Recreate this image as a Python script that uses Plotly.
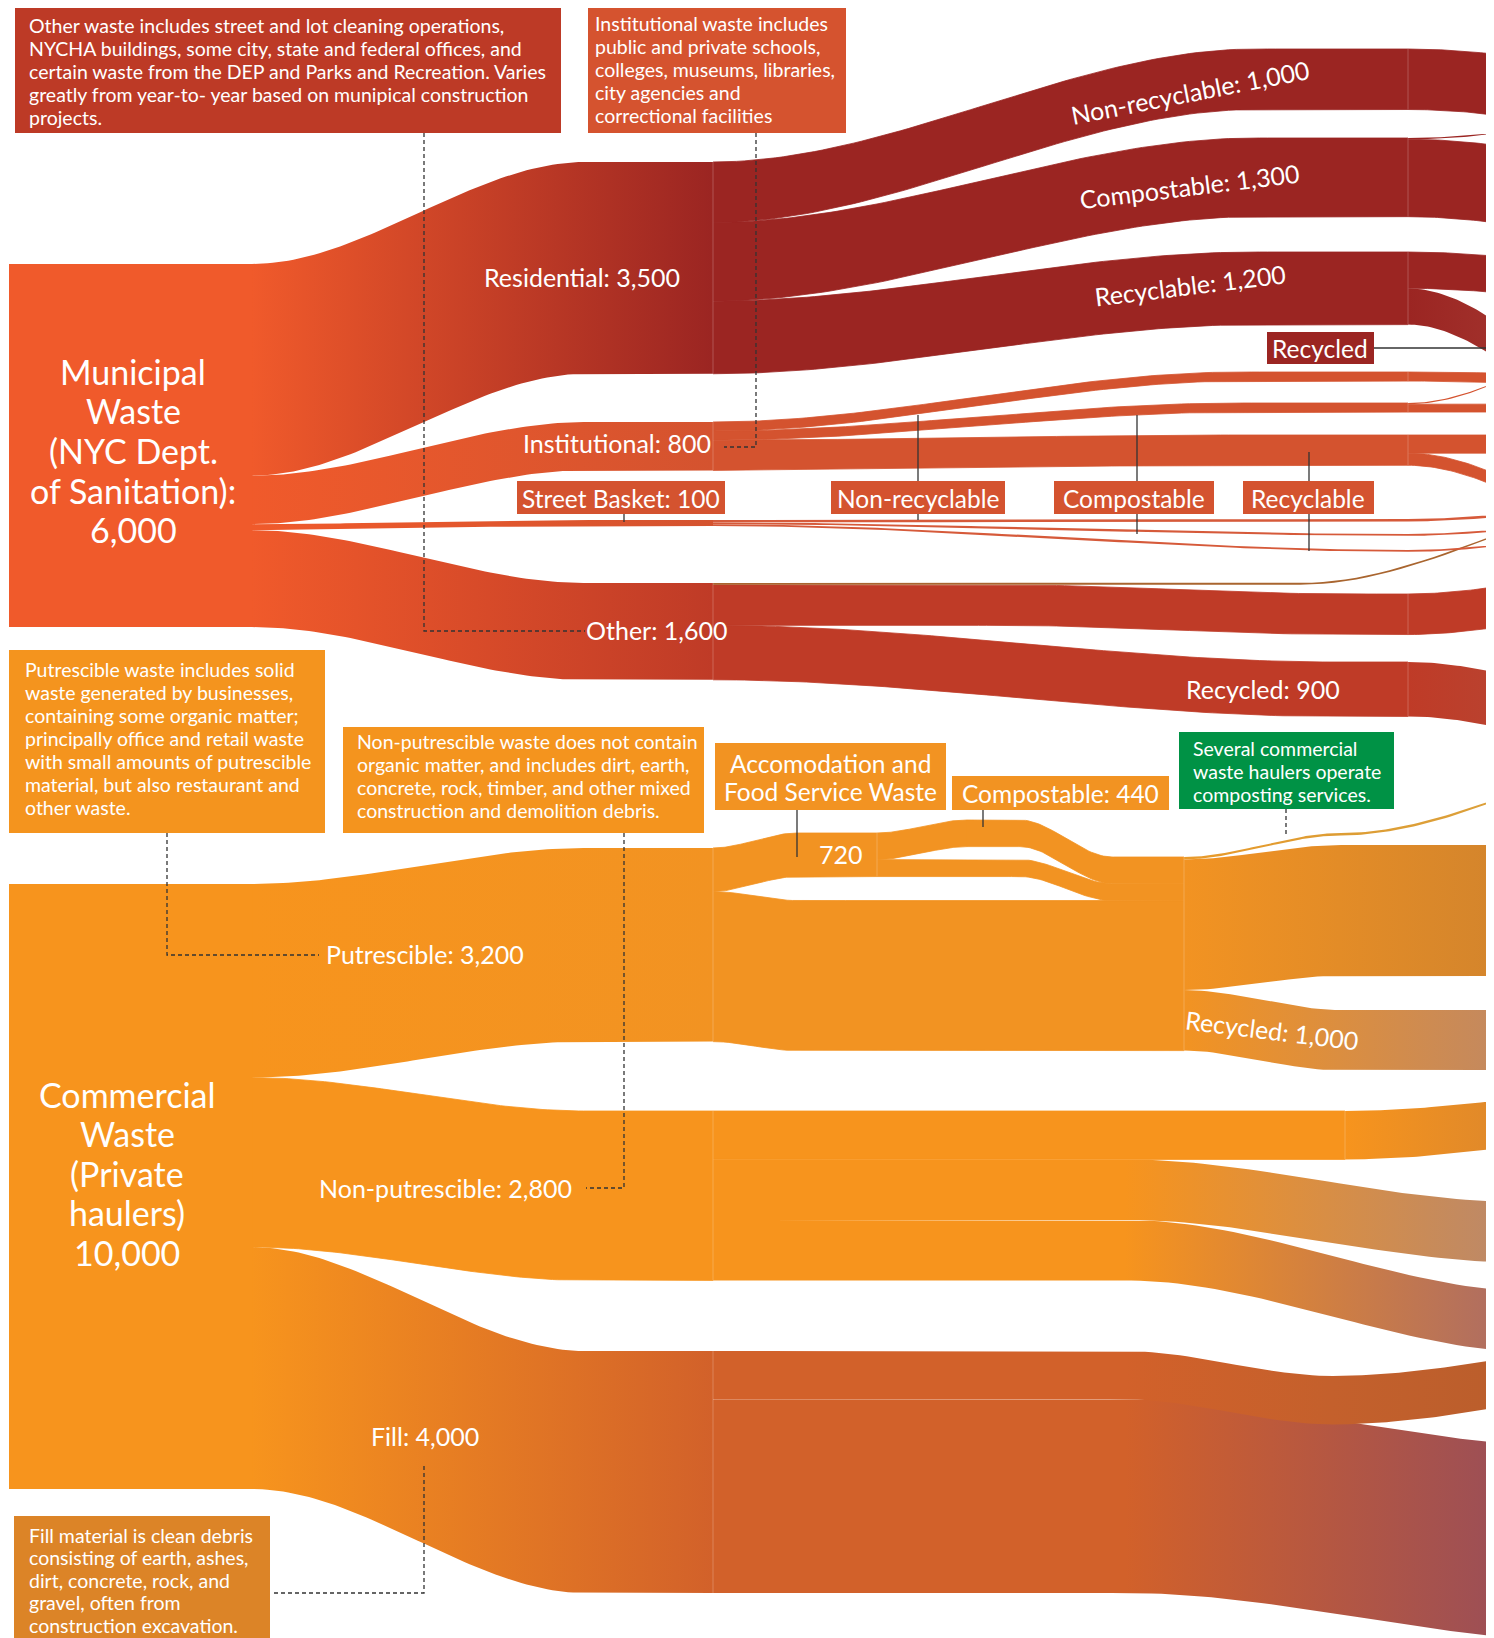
import numpy as np
import plotly.graph_objects as go

# ---------------------------------------------------------------
#  NYC waste flows (tons per day) - custom sankey on pixel axes
# ---------------------------------------------------------------
W, H = 1494, 1638
PAGE_PAD = 8        # browser body margin; axes are shifted so data px == page px
K = 0.0605          # px per ton
FONT = "Lato"

# ---- flows ----
link_source = ['MUN', 'MUN', 'MUN', 'MUN', 'COM', 'COM', 'COM',
               'RES', 'RES', 'RES', 'INS', 'INS', 'INS', 'STB', 'STB', 'STB',
               'OTH', 'OTH', 'OTH',
               'PUT', 'AFS', 'CMP', 'AFS', 'PUT', 'M', 'M', 'M', 'CPL',
               'NPU', 'NPU', 'NPU', 'NPA', 'FIL', 'FIL', 'FIA',
               'R_NR', 'R_CO', 'R_CO', 'R_RE', 'R_RE', 'I_NR', 'I_CO', 'I_CO',
               'I_RE', 'I_RE', 'S_NR', 'S_CO', 'S_RE', 'O_NR', 'O_RE']
link_target = ['RES', 'INS', 'STB', 'OTH', 'PUT', 'NPU', 'FIL',
               'R_NR', 'R_CO', 'R_RE', 'I_NR', 'I_CO', 'I_RE', 'S_NR', 'S_CO', 'S_RE',
               'X_BRN', 'O_NR', 'O_RE',
               'AFS', 'CMP', 'M', 'M', 'M', 'CPL', 'X_MAIN', 'X_R1K', 'X_CPL',
               'NPA', 'X_NPB', 'X_NPC', 'X_NPA', 'FIA', 'X_FIB', 'X_FIA',
               'X_RNR', 'X_RCOt', 'X_RCO', 'X_RREf', 'X_RREr', 'X_INR', 'X_ICOt', 'X_ICO',
               'X_IREf', 'X_IREd', 'X_SNR', 'X_SCO', 'X_SRE', 'X_ONR', 'X_ORE']
link_value = [3500, 800, 100, 1600, 3200, 2800, 4000,
              1000, 1300, 1200, 150, 150, 500, 40, 30, 30,
              30, 670, 900,
              720, 440, 440, 280, 2480, 40, 2160, 1000, 40,
              800, 1000, 1000, 800, 800, 3200, 800,
              1000, 20, 1280, 600, 600, 150, 20, 130,
              300, 200, 40, 30, 30, 670, 900]

# ---- node layout (px) ----
node_x = {'MUN': 252, 'COM': 252,
          'RES': 713, 'INS': 713, 'STB': 713, 'OTH': 713, 'PUT': 713, 'NPU': 713, 'FIL': 713,
          'AFS': 877, 'CMP': 967, 'M': 1184, 'CPL': 1341, 'NPA': 1345, 'FIA': 1333,
          'R_NR': 1408, 'R_CO': 1408, 'R_RE': 1408, 'I_NR': 1408, 'I_CO': 1408, 'I_RE': 1408,
          'S_NR': 1408, 'S_CO': 1408, 'S_RE': 1408, 'O_NR': 1408, 'O_RE': 1408,
          'X_NPB': 1520, 'X_NPC': 1540, 'X_FIB': 1600}
node_top = {'MUN': 264, 'COM': 884,
            'RES': 162, 'INS': 422, 'STB': 520, 'OTH': 583, 'PUT': 848, 'NPU': 1111, 'FIL': 1351,
            'AFS': 833, 'CMP': 820, 'M': 857, 'CPL': 833, 'NPA': 1111, 'FIA': 1376,
            'R_NR': 49, 'R_CO': 138, 'R_RE': 252, 'I_NR': 372, 'I_CO': 403, 'I_RE': 435,
            'S_NR': 519, 'S_CO': 534, 'S_RE': 550, 'O_NR': 594, 'O_RE': 662,
            'X_RNR': 73, 'X_RCOt': 114, 'X_RCO': 167, 'X_RREf': 271, 'X_RREr': 441,
            'X_INR': 377, 'X_ICOt': 307, 'X_ICO': 404, 'X_IREf': 435, 'X_IREd': 549,
            'X_SNR': 500, 'X_SCO': 515, 'X_SRE': 526, 'X_ONR': 561, 'X_ORE': 710,
            'X_BRN': 483, 'X_CPL': 748, 'X_MAIN': 845, 'X_R1K': 1010,
            'X_NPA': 1085, 'X_NPB': 1202, 'X_NPC': 1292, 'X_FIA': 1337, 'X_FIB': 1449}
OFF_X = 1700   # columns beyond the right edge

# where each ribbon bends (default: whole span)
curve = {('OTH', 'X_BRN'): (1300, 1700), ('OTH', 'O_NR'): (1000, 1350), ('OTH', 'O_RE'): (713, 1333),
         ('PUT', 'AFS'): (713, 797), ('PUT', 'M'): (713, 797), ('AFS', 'CMP'): (877, 967),
         ('CMP', 'M'): (1020, 1112), ('AFS', 'M'): (1020, 1112),
         ('NPU', 'X_NPB'): (1125, 1520), ('NPU', 'X_NPC'): (1125, 1540),
         ('FIL', 'FIA'): (1125, 1333), ('FIL', 'X_FIB'): (1125, 1600)}
curve_by_src = {'MUN': (252, 585), 'COM': (252, 585), 'RES': (713, 1255), 'INS': (713, 1240),
                'STB': (713, 1408), 'M': (1184, 1341)}

# ---- colours ----
MUN_C, RES_C, INS_C, OTH_C = '#f05a2b', '#9b2522', '#d4532f', '#bf3b27'
COM_C, PUT_C, FIL_C = '#f7941d', '#f29322', '#d2612a'
STB_C = '#d65a3a'
link_color = {('MUN', 'RES'): (MUN_C, RES_C), ('MUN', 'INS'): (MUN_C, INS_C),
              ('MUN', 'STB'): (MUN_C, INS_C), ('MUN', 'OTH'): (MUN_C, OTH_C),
              ('COM', 'PUT'): (COM_C, PUT_C), ('COM', 'NPU'): (COM_C, COM_C),
              ('COM', 'FIL'): (COM_C, FIL_C),
              ('OTH', 'X_BRN'): ('#a9652f', '#a9652f'),
              ('M', 'CPL'): ('#e99a2a', '#dd9d34'), ('CPL', 'X_CPL'): ('#dd9d34', '#dca03a'),
              ('M', 'X_MAIN'): (PUT_C, '#d4852c'), ('M', 'X_R1K'): (PUT_C, '#c4895e'),
              ('NPU', 'NPA'): (COM_C, COM_C), ('NPA', 'X_NPA'): (COM_C, '#e0892a'),
              ('NPU', 'X_NPB'): (COM_C, '#be8966'), ('NPU', 'X_NPC'): (COM_C, '#b06e60'),
              ('FIL', 'FIA'): (FIL_C, '#c4602c'), ('FIA', 'X_FIA'): ('#c4602c', '#bb5e2c'),
              ('FIL', 'X_FIB'): (FIL_C, '#9d4f55'),
              ('R_RE', 'X_RREr'): (RES_C, '#a1302b'), ('O_RE', 'X_ORE'): (OTH_C, '#ba422f')}
src_color = {'RES': RES_C, 'R_NR': RES_C, 'R_CO': RES_C, 'R_RE': RES_C,
             'INS': INS_C, 'I_NR': INS_C, 'I_CO': INS_C, 'I_RE': INS_C,
             'STB': STB_C, 'S_NR': STB_C, 'S_CO': STB_C, 'S_RE': STB_C,
             'OTH': OTH_C, 'O_NR': OTH_C, 'PUT': PUT_C, 'AFS': PUT_C, 'CMP': PUT_C}


def ribbon(x0, x1, ya, yb, w, cx0, cx1):
    xs = np.unique(np.concatenate([np.linspace(x0, x1, 90), [cx0, cx1]]))
    xs = xs[(xs >= x0) & (xs <= x1)]
    t = np.clip((xs - cx0) / max(cx1 - cx0, 1e-9), 0, 1)
    top = ya + (yb - ya) * t * t * (3 - 2 * t)
    return np.concatenate([xs, xs[::-1]]), np.concatenate([top, (top + w)[::-1]])


fig = go.Figure()

out_off, in_off = {}, {}
paths = []
for s, t, v in zip(link_source, link_target, link_value):
    w = v * K
    ya = node_top[s] + out_off.get(s, 0)
    yb = node_top[t] + in_off.get(t, 0)
    out_off[s] = out_off.get(s, 0) + w
    in_off[t] = in_off.get(t, 0) + w
    x0, x1 = node_x[s], node_x.get(t, OFF_X)
    cx0, cx1 = curve.get((s, t), curve_by_src.get(s, (x0, x1)))
    c0, c1 = link_color.get((s, t), (src_color.get(s, RES_C),) * 2)
    xs, ys = ribbon(x0, x1, ya, yb, w, cx0, cx1)
    paths.append((v, xs, ys, c0, c1, cx0, min(x1, W)))

# big ribbons first, thin strands on top
for v, xs, ys, c0, c1, g0, g1 in sorted(paths, key=lambda p: -p[0]):
    if c0 != c1:
        kw = dict(line=dict(width=0),
                  fillgradient=dict(type='horizontal', colorscale=[[0, c0], [1, c1]],
                                    start=g0, stop=g1))
    elif v > 60:
        kw = dict(fillcolor=c0, line=dict(width=0.8, color=c0))   # hides seams
    else:
        kw = dict(fillcolor=c0, line=dict(width=0))
    fig.add_trace(go.Scatter(x=xs, y=ys, mode='lines', fill='toself',
                             hoverinfo='skip', showlegend=False, **kw))

# source blocks
node_value = {}
for s, t, v in zip(link_source, link_target, link_value):
    node_value[s] = node_value.get(s, 0) + v
for n, c in [('MUN', MUN_C), ('COM', COM_C)]:
    y0, y1 = node_top[n], node_top[n] + node_value[n] * K
    fig.add_trace(go.Scatter(x=[9, 252.5, 252.5, 9, 9], y=[y0, y0, y1, y1, y0], mode='lines',
                             line=dict(width=0), fill='toself', fillcolor=c,
                             hoverinfo='skip', showlegend=False))

# faint dividers where ribbons pass a node
node_in = {}
for t, v in zip(link_target, link_value):
    node_in[t] = node_in.get(t, 0) + v
for n in ['RES', 'INS', 'OTH', 'PUT', 'NPU', 'FIL', 'AFS', 'M', 'NPA',
          'R_NR', 'R_CO', 'R_RE', 'I_NR', 'I_CO', 'I_RE', 'O_NR', 'O_RE']:
    y0 = node_top[n]
    fig.add_trace(go.Scatter(x=[node_x[n]] * 2, y=[y0, y0 + node_in[n] * K], mode='lines',
                             line=dict(color='rgba(255,255,255,0.22)', width=1),
                             hoverinfo='skip', showlegend=False))

shapes = []
annotations = []


def box(x0, y0, x1, y1, color):
    shapes.append(dict(type='rect', xref='x', yref='y', x0=x0, y0=y0, x1=x1, y1=y1,
                       fillcolor=color, line=dict(width=0)))


def text(t, x, y, size=25, angle=0, xanchor='center'):
    annotations.append(dict(text=t, x=x, y=y, xref='x', yref='y', showarrow=False,
                            textangle=angle, xanchor=xanchor, yanchor='middle',
                            font=dict(family=FONT, size=size, color='white')))


def lines(rows, x, y, dy, size, xanchor='left'):
    for i, r in enumerate(rows):
        text(r, x, y + i * dy, size, xanchor=xanchor)


def lead(pts, dash=True):
    xs, ys = zip(*pts)
    fig.add_trace(go.Scatter(x=xs, y=ys, mode='lines', hoverinfo='skip', showlegend=False,
                             line=dict(color='#333333', width=1.3,
                                       dash='4px,3px' if dash else 'solid')))


# leader lines
lead([(424, 133), (424, 631), (585, 631)])
lead([(756, 133), (756, 447), (724, 447)])
lead([(167, 833), (167, 955), (319, 955)])
lead([(624, 833), (624, 1188), (586, 1188)])
lead([(274, 1593), (424, 1593), (424, 1466)])
lead([(1286, 809), (1286, 836)])
lead([(624, 514), (624, 522)], False)
lead([(918, 415), (918, 520)], False)
lead([(1137, 415), (1137, 534)], False)
lead([(1309, 452), (1309, 551)], False)
lead([(1374, 348), (1494, 348)], False)
lead([(797, 810), (797, 857)], False)
lead([(983, 810), (983, 827)], False)

NOTE = 19.5
# explanatory notes
box(15, 7, 561, 133, '#bd3a26')
lines(["Other waste includes street and lot cleaning operations,",
       "NYCHA buildings, some city, state and federal offices, and",
       "certain waste from the DEP and Parks and Recreation. Varies",
       "greatly from year-to- year based on munipical construction",
       "projects."], 27, 25, 23, NOTE)
box(588, 7, 846, 133, '#d5532f')
lines(["Institutional waste includes", "public and private schools,",
       "colleges, museums, libraries,", "city agencies and",
       "correctional facilities"], 593, 23, 23, NOTE)
box(9, 650, 325, 833, '#f4941e')
lines(["Putrescible waste includes solid", "waste generated by businesses,",
       "containing some organic matter;", "principally office and retail waste",
       "with small amounts of putrescible", "material, but also restaurant and",
       "other waste."], 23, 669, 23.15, NOTE)
box(343, 727, 704, 833, '#f4941e')
lines(["Non-putrescible waste does not contain", "organic matter, and includes dirt, earth,",
       "concrete, rock, timber, and other mixed", "construction and demolition debris."],
      355, 741, 23, NOTE)
box(1179, 732, 1394, 809, '#009245')
lines(["Several commercial", "waste haulers operate", "composting services."],
      1191, 748, 23, NOTE)
box(14, 1516, 270, 1650, '#dc8427')
lines(["Fill material is clean debris", "consisting of earth, ashes,",
       "dirt, concrete, rock, and", "gravel, often from", "construction excavation."],
      27, 1535, 22.5, NOTE)

# boxed labels
box(517, 481, 725, 514, INS_C)
text("Street Basket: 100", 621, 498, 24.5)
box(831, 481, 1005, 514, INS_C)
text("Non-recyclable", 918, 498, 24.5)
box(1054, 481, 1214, 514, INS_C)
text("Compostable", 1134, 498, 24.5)
box(1243, 481, 1374, 514, INS_C)
text("Recyclable", 1308, 498, 24.5)
box(1267, 332, 1374, 364, RES_C)
text("Recycled", 1320, 348, 24.5)
box(715, 743, 946, 810, PUT_C)
lines(["Accomodation and", "Food Service Waste"], 830, 763, 28, 24.5, 'center')
box(952, 776, 1169, 810, PUT_C)
text("Compostable: 440", 1060, 793, 24.5)

# ribbon labels
lines(["Municipal", "Waste", "(NYC Dept.", "of Sanitation):", "6,000"],
      133, 371, 39.7, 34, 'center')
lines(["Commercial", "Waste", "(Private", "haulers)", "10,000"],
      127, 1094, 39.5, 34, 'center')
text("Residential: 3,500", 582, 277)
text("Institutional: 800", 617, 443)
text("Other: 1,600", 657, 630)
text("Putrescible: 3,200", 425, 954)
text("Non-putrescible: 2,800", 445, 1188)
text("Fill: 4,000", 425, 1436)
text("720", 841, 854)
text("Recycled: 900", 1263, 689)
text("Non-recyclable: 1,000", 1190, 92, angle=-11)
text("Compostable: 1,300", 1189, 186, angle=-7)
text("Recyclable: 1,200", 1190, 285, angle=-7)
text("Recycled: 1,000", 1272, 1030, angle=7)

# fixed size (no autosize to the body width) so one axis unit == one page pixel
fig.update_layout(autosize=False, width=W - PAGE_PAD, height=H - PAGE_PAD,
                  margin=dict(l=0, r=0, t=0, b=0),
                  plot_bgcolor='white', paper_bgcolor='white',
                  shapes=shapes, annotations=annotations, showlegend=False)
fig.update_xaxes(range=[PAGE_PAD, W], visible=False, fixedrange=True)
fig.update_yaxes(range=[H, PAGE_PAD], visible=False, fixedrange=True)
fig.write_html("out.html")
